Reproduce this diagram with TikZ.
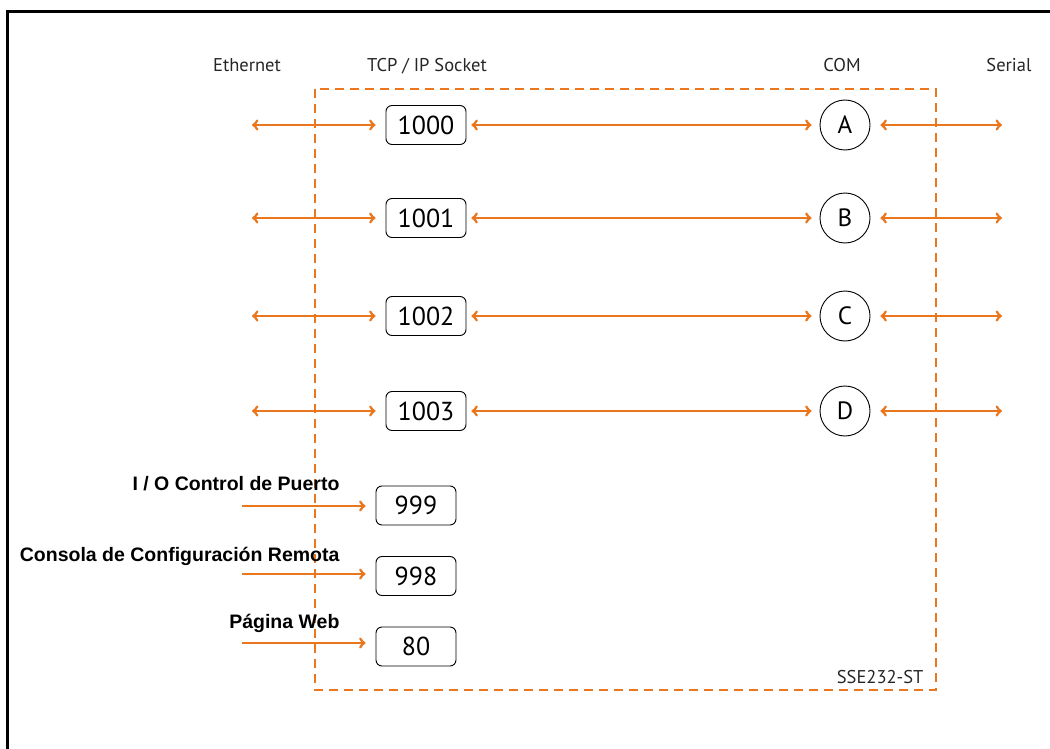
\documentclass[tikz,border=0pt]{standalone}
\usepackage{fontspec}
\setmainfont{PT Sans}
\newfontfamily\svcfont{Liberation Sans}
\usetikzlibrary{arrows}
\definecolor{portorange}{RGB}{234,118,30}

\begin{document}
\begin{tikzpicture}[x=1pt,y=-1pt,>=to,node distance=95pt,
	sock/.style={draw,rounded corners=6pt,minimum width=80pt,minimum height=39pt,inner sep=0pt,line width=0.9pt,font=\fontsize{26}{26}\selectfont},
	com/.style={draw,circle,minimum size=50pt,inner sep=0pt,line width=0.9pt,font=\fontsize{25}{25}\selectfont},
	wire/.style={portorange,line width=2.8pt},
	head/.style={anchor=base,text=black!85,font=\fontsize{18.5}{18.5}\selectfont},
	svc/.style={anchor=base east,font=\svcfont\bfseries\fontsize{19.5}{19.5}\selectfont}]

	\useasboundingbox (0,0) rectangle (1050,749);

	% frame
	\draw[line width=3pt] (7,749) -- (7,12) -- (1050,12);

	% device outline
	\draw[portorange,line width=2.3pt,dash pattern=on 9pt off 6pt] (315,89) rectangle (936,690);

	% column heads
	\node[head] (eth) at (247,72) {Ethernet};
	\node[head] (tcp) at (427,72) {TCP / IP Socket};
	\node[head] (comhead) at (842,72) {COM};
	\node[head] (ser) at (1009,72) {Serial};
	\node[head,anchor=base east] (model) at (927,683) {SSE232-ST};

	% data sockets
	\node[sock] (s1) at (426,125) {1000};
	\node[sock] (s2) at (426,218) {1001};
	\node[sock] (s3) at (426,316) {1002};
	\node[sock] (s4) at (426,411) {1003};

	% serial ports
	\node[com] (A) [right of=s1,node distance=419pt] {A};
	\node[com] (B) [right of=s2,node distance=419pt] {B};
	\node[com] (C) [right of=s3,node distance=419pt] {C};
	\node[com] (D) [right of=s4,node distance=419pt] {D};

	% service sockets
	\node[sock] (p999) at (416,505.5) {999};
	\node[sock] (p998) [below of=p999,node distance=70.5pt] {998};
	\node[sock] (p80) [below of=p998,node distance=70.5pt] {80};

	\node[svc] (io) at (343,490) {I / O Control de Puerto};
	\node[svc] (cons) at (343,561) {Consola de Configuración Remota};
	\node[svc] (web) at (343,628) {Página Web};

	% free ends
	\coordinate (e1) at (252,125);
	\coordinate (e2) at (252,218);
	\coordinate (e3) at (252,316);
	\coordinate (e4) at (252,411);
	\coordinate (r1) at (1002,125);
	\coordinate (r2) at (1002,218);
	\coordinate (r3) at (1002,316);
	\coordinate (r4) at (1002,411);
	\coordinate (i1) at (242,506);
	\coordinate (i2) at (242,574);
	\coordinate (i3) at (242,643);

	\path[wire,<->]
	(e1) edge[shorten >=10pt] (s1)
	(e2) edge[shorten >=10pt] (s2)
	(e3) edge[shorten >=10pt] (s3)
	(e4) edge[shorten >=10pt] (s4)
	(s1) edge[shorten <=5pt,shorten >=8pt] (A)
	(s2) edge[shorten <=5pt,shorten >=8pt] (B)
	(s3) edge[shorten <=5pt,shorten >=8pt] (C)
	(s4) edge[shorten <=5pt,shorten >=8pt] (D)
	(A) edge[shorten <=10pt] (r1)
	(B) edge[shorten <=10pt] (r2)
	(C) edge[shorten <=10pt] (r3)
	(D) edge[shorten <=10pt] (r4)
	;

	\path[wire,->]
	(i1) edge[shorten >=10pt] (i1 -| p999.west)
	(i2) edge[shorten >=10pt] (i2 -| p998.west)
	(i3) edge[shorten >=10pt] (i3 -| p80.west)
	;
\end{tikzpicture}
\end{document}
